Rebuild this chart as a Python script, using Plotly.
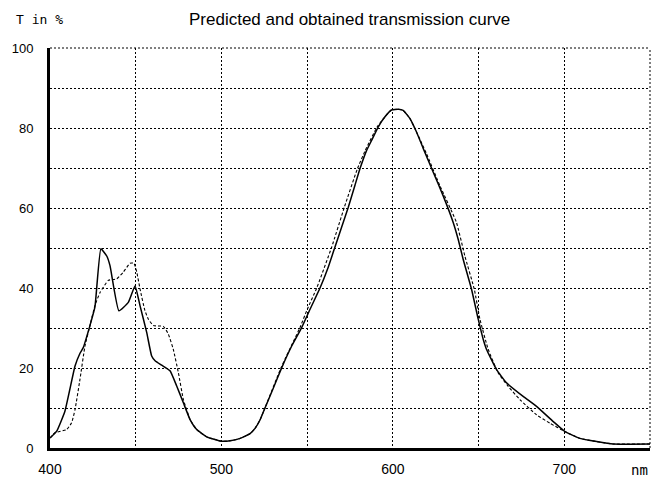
import plotly.graph_objects as go

# Obtained transmission (solid line): wavelength in nm, transmission in %
wl_obtained = [400, 403.9, 408.7, 414.6, 417.5, 419.4, 423.3, 426.2, 429.7, 433.1,
               435.0, 440.2, 445.7, 449.6, 452.5, 456.4, 459.3, 461.3, 465.1, 470.0,
               473.9, 477.8, 481.7, 485.6, 491.4, 500, 505, 510.9, 516.7, 519.6,
               522.5, 525.4, 530.3, 535.2, 541.0, 546.8, 551.7, 557.5, 562.3, 566.2,
               570.1, 574.0, 577.9, 580.8, 584.7, 587.6, 591.5, 595.4, 599.2, 603.1,
               606.0, 609.9, 613.8, 617.7, 623.5, 629.3, 635.2, 638.1, 641.0, 645.9,
               649.8, 652.7, 654.6, 660.5, 666.3, 676.0, 683.8, 693.6, 700.4, 709.1,
               718.9, 728.6, 750]
t_obtained = [2.5, 4.2, 9.2, 20.5, 23.7, 25.1, 30.6, 35.2, 49.8, 48.0,
              45.6, 34.3, 36.4, 40.5, 35.6, 28.9, 23.0, 21.8, 20.7, 19.3,
              15.5, 11.3, 7.1, 4.6, 2.8, 1.7, 1.8, 2.4, 3.6, 4.9,
              7.0, 10.0, 15.0, 20.1, 25.5, 30.1, 34.7, 40.0, 45.2, 50.2,
              55.2, 60.2, 65.7, 69.8, 74.4, 76.9, 80.3, 82.8, 84.5, 84.7,
              84.4, 82.4, 79.0, 74.9, 69.0, 63.1, 56.4, 52.2, 47.2, 39.7,
              32.2, 27.2, 24.7, 19.6, 16.3, 12.9, 10.4, 6.6, 4.1, 2.4,
              1.6, 1.0, 1.0]

# Predicted transmission (dashed line)
wl_predicted = [400, 402.9, 409.7, 412.6, 414.6, 417.5, 420.4, 423.3, 426.2, 429.2,
                434.0, 438.9, 442.8, 446.7, 449.0, 450.6, 452.5, 455.4, 457.4, 460.3,
                466.1, 469.0, 471.9, 474.9, 477.8, 479.7, 481.7, 485.6, 491.4, 500,
                505, 510.9, 516.7, 519.6, 522.5, 525.4, 534.8, 545.8, 550.1, 555.6,
                564.3, 571.7, 579.3, 583.9, 590.9, 595.4, 599.2, 603.1, 606.0, 609.9,
                619.6, 627.4, 637.1, 642.0, 647.5, 650.8, 655.6, 661.4, 667.3, 674.1,
                683.8, 691.6, 700.4, 709.1, 718.9, 728.6, 750]
t_predicted = [2.5, 3.8, 4.6, 6.3, 9.6, 17.2, 25.5, 30.6, 35.6, 38.9,
               41.9, 42.3, 44.0, 46.2, 46.2, 44.0, 39.8, 34.3, 32.2, 30.6,
               30.4, 28.5, 24.7, 18.8, 12.1, 9.6, 7.1, 4.6, 2.8, 1.7,
               1.8, 2.4, 3.6, 4.9, 7.0, 10.0, 20.1, 30.1, 34.7, 40.0,
               50.2, 60.2, 69.8, 74.4, 80.3, 82.8, 84.5, 84.7, 84.4, 82.4,
               73.6, 65.6, 56.4, 48.0, 39.7, 32.2, 24.7, 18.8, 15.4, 12.1,
               8.3, 6.2, 4.1, 2.4, 1.6, 1.0, 1.0]

x_ticks = [400, 500, 600, 700]
y_ticks = [0, 20, 40, 60, 80, 100]

title_text = "Predicted and obtained transmission curve"
y_label = "T in %"
x_label = "nm"

fig = go.Figure()
fig.add_trace(go.Scatter(x=wl_predicted, y=t_predicted, mode="lines", name="Predicted",
                         line=dict(color="black", width=1.1, dash="3px,2px",
                                   shape="spline", smoothing=0.4)))
fig.add_trace(go.Scatter(x=wl_obtained, y=t_obtained, mode="lines", name="Obtained",
                         line=dict(color="black", width=1.5,
                                   shape="spline", smoothing=0.4)))

grid_style = dict(showgrid=True, gridcolor="black", gridwidth=1, griddash="2px,2px")
dotted = dict(color="black", width=1, dash="2px,2px")

fig.update_layout(
    width=654, height=479,
    margin=dict(l=50, r=4, t=48, b=31, autoexpand=False),
    paper_bgcolor="white", plot_bgcolor="white",
    showlegend=False,
    font=dict(family="Liberation Sans, Arial, sans-serif", color="black"),
    xaxis=dict(range=[400, 750], tickvals=x_ticks, ticktext=[str(v) for v in x_ticks],
               showline=True, linecolor="black", linewidth=3, zeroline=False,
               ticks="", ticklabelstandoff=6, automargin=False,
               tickfont=dict(size=14, color="black"),
               minor=dict(dtick=50, tick0=400, showgrid=True, gridcolor="black",
                          gridwidth=1, griddash="2px,2px"),
               **grid_style),
    yaxis=dict(range=[0, 100], tickvals=y_ticks, ticktext=[str(v) for v in y_ticks],
               showline=True, linecolor="black", linewidth=3, zeroline=False,
               ticks="", ticklabelstandoff=11, automargin=False,
               tickfont=dict(size=13, color="black"),
               minor=dict(dtick=10, tick0=0, showgrid=True, gridcolor="black",
                          gridwidth=1, griddash="2px,2px"),
               **grid_style),
    shapes=[
        dict(type="line", xref="paper", yref="paper", x0=0, x1=1, y0=1, y1=1, line=dotted),
        dict(type="line", xref="paper", yref="paper", x0=1, x1=1, y0=0, y1=1, line=dotted),
    ],
    annotations=[
        dict(text=title_text, xref="paper", yref="paper", x=(349 - 50) / 600,
             y=(448.3 - 19) / 400.3, xanchor="center", yanchor="middle",
             showarrow=False, font=dict(size=17, color="black")),
        dict(text=y_label, xref="paper", yref="paper", x=(14 - 50) / 600,
             y=(448.3 - 19) / 400.3, xanchor="left", yanchor="middle",
             showarrow=False,
             font=dict(family="DejaVu Sans Mono, monospace", size=13, color="black")),
        dict(text=x_label, xref="paper", yref="paper", x=(639 - 50) / 600,
             y=(448.3 - 470) / 400.3, xanchor="center", yanchor="middle",
             showarrow=False,
             font=dict(family="DejaVu Sans Mono, monospace", size=14, color="black")),
    ],
)

fig.write_html("out.html")
